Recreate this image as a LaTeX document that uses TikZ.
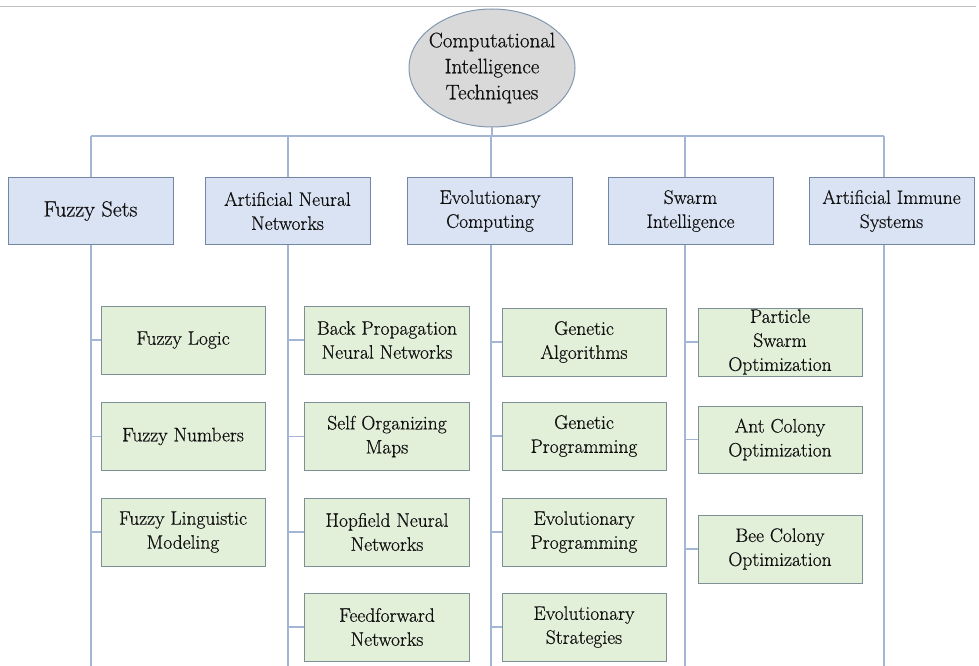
\documentclass[tikz,border=0pt]{standalone}
\usepackage{fontspec}
\newfontfamily\tnr{Latin Modern Roman}[FakeBold=0.6]
\usetikzlibrary{shapes.geometric}
\definecolor{linec}{HTML}{A3B6D6}
\definecolor{bluefill}{HTML}{DAE3F3}
\definecolor{blueedge}{HTML}{7286A6}
\definecolor{greenfill}{HTML}{E2EFD9}
\definecolor{greenedge}{HTML}{7E8F95}
\definecolor{rootfill}{HTML}{D9D9D9}
\definecolor{rootedge}{HTML}{8497B0}
\definecolor{txt}{HTML}{111111}
\tikzset{
  conn/.style={draw=linec, line width=1.3pt},
  topbox/.style={draw=blueedge, fill=bluefill, line width=1pt, minimum width=165pt, minimum height=67pt, inner sep=0pt, align=center, text=txt, font=\tnr\fontsize{19.5}{24}\selectfont},
  subbox/.style={draw=greenedge, fill=greenfill, line width=1pt, minimum width=164pt, minimum height=68pt, inner sep=0pt, align=center, text=txt, font=\tnr\fontsize{19.5}{24}\selectfont},
  rootnode/.style={ellipse, draw=rootedge, fill=rootfill, line width=1pt, minimum width=166pt, minimum height=118pt, inner xsep=-12pt, inner ysep=-12pt, align=center, text=txt, font=\tnr\fontsize{21}{26}\selectfont}
}
\begin{document}
\begin{tikzpicture}[x=1pt,y=-1pt]
\useasboundingbox (0,0) rectangle (979,666);
\draw[draw=black!25, line width=1pt] (0,7) -- (976,7);
% root
\node[rootnode] (root) at (492,68) {Computational\\Intelligence\\Techniques};
% bus
\coordinate (busL) at (91,136);
\coordinate (busR) at (884,136);
\draw[conn] (busL) -- (busR);
\draw[conn] (root.south) -- (root.south |- busL);
% top boxes
\node[topbox, font=\tnr\fontsize{22}{26}\selectfont] (fs) at (90.5,211) {Fuzzy Sets};
\node[topbox] (ann) at (287.5,211) {Artificial Neural\\Networks};
\node[topbox] (ec) at (490,211) {Evolutionary\\Computing};
\node[topbox] (si) at (690.5,211) {Swarm\\Intelligence};
\node[topbox] (ais) at (891.5,211) {Artificial Immune\\Systems};
\foreach \n/\x in {fs/91,ann/288,ec/491,si/685,ais/884}{
  \coordinate (\n top) at (\x,136);
  \coordinate (\n bot) at (\x,666);
  \draw[conn] (\n top) -- (\n top |- \n.north);
  \draw[conn] (\n top |- \n.south) -- (\n bot);
}
% fuzzy column
\node[subbox] (fl) at (183,340) {Fuzzy Logic};
\node[subbox] (fn) at (183,436.5) {Fuzzy Numbers};
\node[subbox] (flm) at (183,532) {Fuzzy Linguistic\\Modeling};
% ann column
\node[subbox, minimum width=165pt] (bp) at (387,340) {Back Propagation\\Neural Networks};
\node[subbox, minimum width=165pt] (som) at (387,436.5) {Self Organizing\\Maps};
\node[subbox, minimum width=165pt] (hop) at (387,532) {Hopfield Neural\\Networks};
\node[subbox, minimum width=165pt] (ff) at (387,627) {Feedforward\\Networks};
% ec column
\node[subbox] (ga) at (584,342) {Genetic\\Algorithms};
\node[subbox] (gp) at (584,436) {Genetic\\Programming};
\node[subbox] (ep) at (584,532) {Evolutionary\\Programming};
\node[subbox] (es) at (584,627) {Evolutionary\\Strategies};
% si column
\node[subbox] (pso) at (780,342) {Particle\\Swarm\\Optimization};
\node[subbox, minimum height=67pt] (aco) at (780,439.5) {Ant Colony\\Optimization};
\node[subbox] (bco) at (780,549) {Bee Colony\\Optimization};
% stubs
\foreach \b/\c in {fl/fs,fn/fs,flm/fs,bp/ann,som/ann,hop/ann,ff/ann,ga/ec,gp/ec,ep/ec,es/ec,pso/si,aco/si,bco/si}{
  \draw[conn] (\b.west) -- (\b.west -| \c top);
}
\end{tikzpicture}
\end{document}
